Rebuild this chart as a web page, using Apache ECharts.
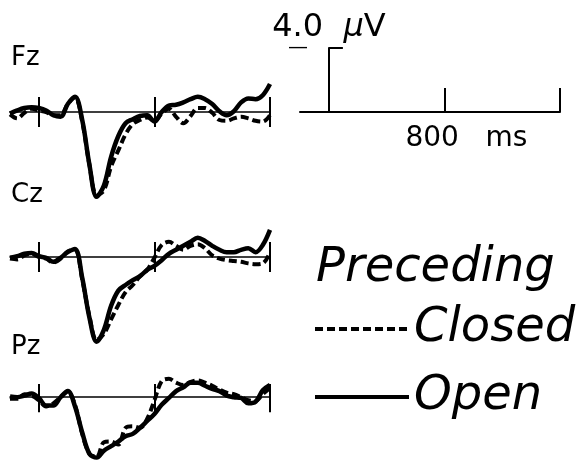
<!DOCTYPE html>
<html><head><meta charset="utf-8">
<script src="https://cdn.jsdelivr.net/npm/echarts@6/dist/echarts.min.js"></script>
<style>html,body{margin:0;padding:0;background:#fff}#c{width:586px;height:466px}</style>
</head><body><div id="c"></div>
<script>
// time points (ms)
const times = [-200,-150,-100,-50,0,50,100,150,200,250,300,350,400,450,500,550,600,650,700,750,800,850,900,950,1000,1050,1100,1150,1200,1250,1300,1350,1400,1450,1500,1550,1600];
// amplitudes in microvolts (negative plotted up)
const fzOpen   = [0.1,-0.1,-0.25,-0.3,-0.25,-0.1,0.2,0.3,-0.5,-0.95,0.5,3.3,5.3,4.6,2.8,1.5,0.7,0.45,0.25,0.2,0.6,0,-0.4,-0.45,-0.6,-0.8,-0.95,-0.8,-0.5,-0.05,0.2,-0.05,-0.6,-0.85,-0.8,-1.05,-1.75];
const fzClosed = [0.15,0.4,0.05,-0.2,-0.1,0,0.2,0.2,-0.5,-0.9,0.6,3.3,5.2,4.9,3.4,2.4,1.4,0.75,0.5,0.35,0.55,0.1,-0.2,0.3,0.7,0.25,-0.25,-0.25,0.05,0.5,0.55,0.4,0.3,0.4,0.55,0.6,0.2];
const czOpen   = [0.05,-0.05,-0.2,-0.25,-0.05,0.05,0.3,0.05,-0.3,-0.5,1.3,3.8,5.3,4.55,3.05,2.1,1.75,1.45,1.2,0.8,0.55,0.2,-0.2,-0.45,-0.7,-0.95,-1.2,-1.0,-0.7,-0.45,-0.3,-0.3,-0.45,-0.55,-0.3,-0.75,-1.7];
const czClosed = [0.1,0.15,-0.1,-0.2,0,0.1,0.35,0.1,-0.35,-0.45,1.4,3.7,5.2,4.8,3.9,3.0,2.2,1.75,1.2,0.8,0.05,-0.75,-0.95,-0.7,-0.45,-0.7,-0.8,-0.55,-0.1,0.1,0.2,0.25,0.3,0.4,0.45,0.4,-0.3];
const pzOpen   = [-0.05,0,-0.1,-0.25,0.05,0.55,0.55,0,-0.4,0.6,2.3,3.7,3.95,3.5,3.2,2.9,2.55,2.4,2.0,1.55,1.1,0.5,0.05,-0.4,-0.65,-0.95,-0.95,-0.75,-0.55,-0.4,-0.1,0,0.05,0.4,0.3,-0.45,-0.8];
const pzClosed = [0.1,0.1,-0.2,-0.1,0.2,0.6,0.4,0,-0.35,0.5,2.4,3.7,3.9,2.95,2.9,3.1,2.0,1.9,2.0,1.4,0.2,-1.05,-1.2,-0.95,-0.8,-1.0,-1.1,-0.95,-0.75,-0.5,-0.3,-0.2,0,0.2,0.25,-0.2,-0.6];
// axis ticks
const panelTicks = [0, 800, 1600];
const scaleTicks = [800, 1600];
const scaleLabel = [800];
const channels = ['Fz', 'Cz', 'Pz'];
const seriesNames = ['Closed', 'Open'];

const FONT = '"DejaVu Sans", sans-serif';
const PX_PER_UV = 16;
const layout = [
  {zeroY: 112, min: -2.5, max: 5.8, labelY: 58},
  {zeroY: 257, min: -2.5, max: 5.8, labelY: 195},
  {zeroY: 399, min: -2.5, max: 4.5, labelY: 347}
];
const panelData = [[fzClosed, fzOpen], [czClosed, czOpen], [pzClosed, pzOpen]];

const grid = [], xAxis = [], yAxis = [], series = [], graphic = [];
const black = {color: '#000'};
layout.forEach((p, i) => {
  grid.push({left: 10, width: 260, top: p.zeroY + p.min * PX_PER_UV, height: (p.max - p.min) * PX_PER_UV});
  xAxis.push({
    gridIndex: i, type: 'value', min: -200, max: 1600, position: 'bottom',
    axisLine: {show: true, onZero: true, lineStyle: {color: '#000', width: 1.5}},
    axisTick: {show: true, customValues: panelTicks, length: 15, inside: false, lineStyle: {color: '#000', width: 2}},
    axisLabel: {show: false}, splitLine: {show: false}
  });
  yAxis.push({gridIndex: i, type: 'value', inverse: true, min: p.min, max: p.max, show: false});
  const [closed, open] = panelData[i];
  series.push({
    type: 'line', name: seriesNames[1], xAxisIndex: i, yAxisIndex: i,
    data: times.map((t, k) => [t, open[k]]), symbol: 'none', smooth: 0.35, clip: false,
    itemStyle: black, lineStyle: {color: '#000', width: 4.5}, z: 3
  });
  series.push({
    type: 'line', name: seriesNames[0], xAxisIndex: i, yAxisIndex: i,
    data: times.map((t, k) => [t, closed[k]]), symbol: 'none', smooth: 0.35, clip: false,
    itemStyle: black, lineStyle: {color: '#000', width: 4, type: [8, 4], cap: 'butt'}, z: 4
  });
  graphic.push({type: 'text', style: {x: 11, y: p.labelY, text: channels[i], font: '26px ' + FONT, fill: '#000', verticalAlign: 'middle'}});
});

// calibration bar
grid.push({left: 300, width: 260, top: 48, height: 64});
xAxis.push({
  gridIndex: 3, type: 'value', min: -200, max: 1600,
  axisLine: {show: true, onZero: true, lineStyle: {color: '#000', width: 2}},
  axisTick: {show: true, customValues: scaleTicks, inside: true, length: 24, lineStyle: {color: '#000', width: 2}},
  axisLabel: {show: true, customValues: scaleLabel, formatter: v => v + '   ms', fontSize: 28, fontFamily: FONT, color: '#000', margin: 13, padding: [0, 0, 0, 44]},
  splitLine: {show: false}
});
yAxis.push({
  gridIndex: 3, type: 'value', inverse: true, min: -4, max: 0,
  axisLine: {show: true, onZero: true, lineStyle: {color: '#000', width: 2}},
  axisTick: {show: true, customValues: [-4], inside: true, length: 14, lineStyle: {color: '#000', width: 2}},
  axisLabel: {show: true, customValues: [-4], formatter: () => '\u2014', margin: -8, fontSize: 20, fontFamily: FONT, color: '#000'},
  splitLine: {show: false},
  name: '4.0  {mu|\u03bc}V', nameLocation: 'start', nameGap: 20, nameMoveOverlap: false,
  nameTextStyle: {fontSize: 32, fontFamily: FONT, color: '#000', verticalAlign: 'middle', rich: {mu: {fontSize: 32, fontFamily: FONT, fontStyle: 'italic', color: '#000'}}}
});

// upward halves of the panel ticks (helper grids whose bottom edge is the zero line)
layout.forEach((p, i) => {
  grid.push({left: 10, width: 260, top: p.zeroY - 20, height: 20});
  xAxis.push({
    gridIndex: 4 + i, type: 'value', min: -200, max: 1600, position: 'bottom',
    axisLine: {show: false, onZero: false},
    axisTick: {show: true, customValues: panelTicks, length: 15, inside: true, lineStyle: {color: '#000', width: 2}},
    axisLabel: {show: false}, splitLine: {show: false}
  });
  yAxis.push({gridIndex: 4 + i, type: 'value', min: 0, max: 1, show: false});
});

graphic.push({type: 'text', style: {x: 316, y: 269, text: 'Preceding', font: 'italic 48px ' + FONT, fill: '#000', verticalAlign: 'middle'}});

const chart = echarts.init(document.getElementById('c'), null, {renderer: 'canvas'});
chart.setOption({
  animation: false,
  backgroundColor: '#fff',
  grid, xAxis, yAxis, series, graphic,
  legend: {
    data: seriesNames, orient: 'vertical', left: 313, top: 305, padding: 0,
    itemWidth: 94, itemHeight: 14, itemGap: 20, selectedMode: false,
    itemStyle: {opacity: 0},
    lineStyle: {width: 4, color: '#000'},
    textStyle: {fontFamily: FONT, fontStyle: 'italic', fontSize: 48, lineHeight: 48, color: '#000'}
  }
});
</script></body></html>
